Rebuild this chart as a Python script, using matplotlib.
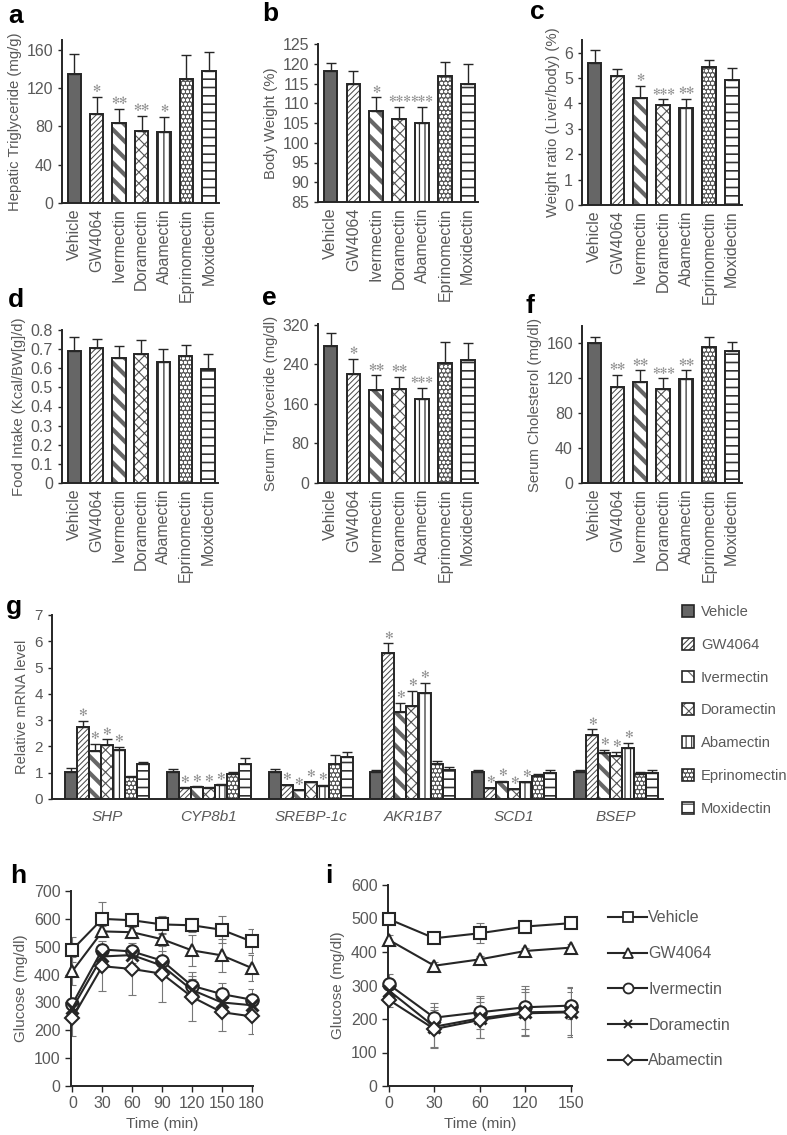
import numpy as np
import matplotlib.pyplot as plt
from matplotlib.patches import Patch
from matplotlib.lines import Line2D
from matplotlib.legend_handler import HandlerTuple

plt.rcParams['font.family'] = ['Liberation Sans', 'DejaVu Sans']
plt.rcParams['hatch.linewidth'] = 0.8

GRAY = '#595959'
DARK = '#262626'
STAR = '#8c8c8c'

groups = ['Vehicle', 'GW4064', 'Ivermectin', 'Doramectin', 'Abamectin',
          'Eprinomectin', 'Moxidectin']

# panel a - hepatic triglyceride
hep_tg = [135, 92.5, 83, 75, 74.5, 129.5, 137.5]
hep_tg_err = [20, 18, 15.5, 15.5, 15, 25, 20]
hep_tg_sig = ['', '*', '**', '**', '*', '', '']

# panel b - body weight
body_wt = [118.1, 115, 108.1, 106.1, 105, 117, 115]
body_wt_err = [2.1, 3.1, 3.4, 2.9, 4, 3.4, 5]
body_wt_sig = ['', '', '*', '***', '***', '', '']

# panel c - liver/body weight ratio
liver_ratio = [5.58, 5.07, 4.21, 3.92, 3.82, 5.42, 4.92]
liver_ratio_err = [0.52, 0.29, 0.47, 0.24, 0.36, 0.29, 0.46]
liver_ratio_sig = ['', '', '*', '***', '**', '', '']

# panel d - food intake
food = [0.692, 0.704, 0.653, 0.674, 0.634, 0.664, 0.594]
food_err = [0.071, 0.049, 0.065, 0.074, 0.066, 0.057, 0.078]

# panel e - serum triglyceride
serum_tg = [278, 221, 189, 191, 170, 243, 249]
serum_tg_err = [25, 30, 29, 24, 22, 42, 35]
serum_tg_sig = ['', '*', '**', '**', '***', '', '']

# panel f - serum cholesterol
serum_chol = [160.8, 110.6, 115.6, 108, 118.7, 155.4, 150.8]
serum_chol_err = [6.5, 13.5, 13.5, 12, 10.5, 12.5, 11]
serum_chol_sig = ['', '**', '**', '***', '**', '', '']

# panel g - relative mRNA (rows = genes, cols = groups)
genes = ['SHP', 'CYP8b1', 'SREBP-1c', 'AKR1B7', 'SCD1', 'BSEP']
mrna = [[1.01, 2.74, 1.83, 2.05, 1.86, 0.82, 1.33],
        [1.01, 0.41, 0.46, 0.43, 0.53, 0.95, 1.32],
        [1.01, 0.53, 0.34, 0.63, 0.51, 1.33, 1.58],
        [1.04, 5.54, 3.32, 3.54, 4.02, 1.32, 1.12],
        [1.03, 0.41, 0.66, 0.37, 0.63, 0.87, 0.99],
        [1.01, 2.43, 1.74, 1.64, 1.93, 0.94, 0.99]]
mrna_err = [[0.16, 0.24, 0.26, 0.22, 0.13, 0.07, 0.09],
            [0.12, 0.03, 0.02, 0.03, 0.03, 0.06, 0.23],
            [0.12, 0.02, 0.02, 0.03, 0.02, 0.36, 0.22],
            [0.06, 0.38, 0.34, 0.58, 0.41, 0.11, 0.10],
            [0.07, 0.02, 0.02, 0.02, 0.02, 0.09, 0.10],
            [0.09, 0.22, 0.12, 0.14, 0.19, 0.10, 0.10]]
mrna_sig = [[False, True, True, True, True, False, False]] * 6

# panel h - glucose tolerance
h_time = [0, 30, 60, 90, 120, 150, 180]
h_series = ['Vehicle', 'GW4064', 'Ivermectin', 'Doramectin', 'Abamectin']
h_vals = [[490, 600, 595, 580, 577, 561, 519],
          [413, 555, 552, 527, 487, 469, 424],
          [295, 490, 483, 450, 360, 330, 310],
          [280, 465, 470, 432, 345, 300, 290],
          [245, 430, 420, 403, 320, 265, 250]]
h_err = [[45, 60, 15, 30, 25, 48, 43],
         [50, 20, 20, 20, 55, 60, 47],
         [20, 20, 20, 35, 35, 38, 40],
         [20, 25, 30, 30, 40, 40, 35],
         [65, 90, 92, 100, 88, 68, 63]]

# panel i - insulin tolerance
i_time = ['0', '30', '60', '120', '150']
i_vals = [[498, 441, 456, 476, 486],
          [436, 359, 378, 403, 413],
          [303, 204, 220, 235, 240],
          [285, 177, 202, 220, 222],
          [257, 170, 197, 217, 220]]
i_err = [[10, 15, 30, 20, 10],
         [15, 12, 10, 10, 10],
         [30, 45, 50, 65, 40],
         [20, 60, 60, 70, 70],
         [20, 58, 55, 65, 75]]

# fill colour, hatch, hatch colour, hatch linewidth
styles = [('#666666', '', '#666666', 0.8),
          ('white', '//////', '#444444', 0.7),
          ('white', '\\\\', '#666666', 3.0),
          ('white', 'xxx', '#555555', 0.8),
          ('white', '|||', '#333333', 0.9),
          ('#5a5a5a', 'oooo', 'white', 0.9),
          ('white', '--', '#333333', 1.2)]
markers = [('s', 9), ('^', 9), ('o', 9), ('x', 8), ('D', 7)]

W, H = 787, 1135
fig = plt.figure(figsize=(W / 100, H / 100), dpi=100)


def box(l, r, t, b):
    return [l / W, 1 - b / H, (r - l) / W, (b - t) / H]


def stars(ax, x, y, n, size=7):
    ax.annotate('\u273b' * n, (x, y), xytext=(0, 2), textcoords='offset points',
                ha='center', va='bottom', fontsize=size, color=STAR,
                family=['DejaVu Sans'])


def draw_bars(ax, x, vals, errs, width):
    for j, (xi, v, e) in enumerate(zip(x, vals, errs)):
        fc, hatch, hc, hlw = styles[j % 7]
        p = ax.bar(xi, v, width, color=fc, hatch=hatch, edgecolor=hc,
                   linewidth=0, zorder=2)[0]
        if hasattr(p, 'set_hatch_linewidth'):
            p.set_hatch_linewidth(hlw)
        ax.bar(xi, v, width, fill=False, edgecolor=DARK, linewidth=1.4, zorder=3)
        ax.errorbar(xi, v, yerr=[[0], [e]], fmt='none', ecolor=DARK,
                    elinewidth=1, capsize=3.5, capthick=1, zorder=4)


def style_axis(ax, size=11.5):
    for s in ['top', 'right']:
        ax.spines[s].set_visible(False)
    for s in ['left', 'bottom']:
        ax.spines[s].set_color(DARK)
        ax.spines[s].set_linewidth(1.4)
    ax.tick_params(colors=DARK, labelcolor=GRAY, labelsize=size,
                   direction='out', length=3, width=1)


def bar_panel(rect, vals, errs, sig, ylim, yticks, ylabel):
    ax = fig.add_axes(rect)
    x = np.arange(len(groups))
    draw_bars(ax, x, vals, errs, 0.6)
    for xi, v, e, s in zip(x, vals, errs, sig):
        if s:
            stars(ax, xi, v + e, len(s), size=6.6 if len(s) == 3 else 7)
    ax.set_xlim(-0.55, 6.45)
    ax.set_ylim(*ylim)
    ax.set_yticks(yticks)
    ax.set_xticks(x)
    ax.set_xticklabels(groups, rotation=90)
    style_axis(ax)
    ax.tick_params(axis='x', length=0, pad=4)
    ax.set_ylabel(ylabel, color=GRAY, fontsize=10.7, labelpad=3)
    return ax


bar_panel(box(62, 219, 40, 203), hep_tg, hep_tg_err, hep_tg_sig,
          (0, 170), [0, 40, 80, 120, 160], 'Hepatic Triglyceride (mg/g)')
bar_panel(box(318, 478, 44, 202), body_wt, body_wt_err, body_wt_sig,
          (85, 125), np.arange(85, 126, 5), 'Body Weight (%)')
bar_panel(box(582, 742, 40, 205), liver_ratio, liver_ratio_err, liver_ratio_sig,
          (0, 6.5), np.arange(0, 7), 'Weight ratio (Liver/body) (%)')
axd = bar_panel(box(62, 218, 330, 483), food, food_err, [''] * 7,
                (0, 0.8), np.arange(0, 0.81, 0.1), 'Food Intake (Kcal/BW[g]/d)')
axd.set_yticklabels(['0', '0.1', '0.2', '0.3', '0.4', '0.5', '0.6', '0.7', '0.8'])
bar_panel(box(318, 478, 324, 483), serum_tg, serum_tg_err, serum_tg_sig,
          (0, 322), [0, 80, 160, 240, 320], 'Serum Triglyceride (mg/dl)')
bar_panel(box(582, 742, 326, 483), serum_chol, serum_chol_err, serum_chol_sig,
          (0, 180), [0, 40, 80, 120, 160], 'Serum Cholesterol (mg/dl)')

# panel g
axg = fig.add_axes(box(52, 663, 615, 799))
w = 0.118
for gi, gene in enumerate(genes):
    xs = gi + (np.arange(7) - 3) * w
    draw_bars(axg, xs, mrna[gi], mrna_err[gi], w)
    for xi, v, e, s in zip(xs, mrna[gi], mrna_err[gi], mrna_sig[gi]):
        if s:
            stars(axg, xi, v + e, 1, size=7.5)
axg.set_xlim(-0.54, 5.46)
axg.set_ylim(0, 7)
axg.set_yticks(range(8))
axg.set_xticks(range(len(genes)))
axg.set_xticklabels(genes, style='italic')
style_axis(axg, 11)
axg.tick_params(axis='x', length=0, pad=8)
axg.set_ylabel('Relative mRNA level', color=GRAY, fontsize=10.5)

handles = []
for j in range(7):
    fc, hatch, hc, hlw = styles[j]
    handles.append((Patch(facecolor=fc, hatch=hatch, edgecolor=hc, linewidth=0),
                    Patch(fill=False, edgecolor=DARK, linewidth=1.2)))
fig.legend(handles, groups, handler_map={tuple: HandlerTuple(ndivide=1, pad=0)},
           loc='upper left', bbox_to_anchor=(676 / W, 1 - 599 / H), frameon=False,
           fontsize=10.6, handlelength=0.85, handleheight=0.85, handletextpad=0.45,
           labelspacing=1.28, labelcolor=GRAY, borderaxespad=0)


def line_panel(rect, x, vals, errs):
    ax = fig.add_axes(rect)
    for k, (v, e) in enumerate(zip(vals, errs)):
        ax.errorbar(x, v, yerr=e, fmt='none', ecolor='#777777', elinewidth=0.8,
                    capsize=3, capthick=0.8, zorder=1)
    for k, v in enumerate(vals):
        m, ms = markers[k]
        ax.plot(x, v, color=DARK, lw=1.5, marker=m, ms=ms, mfc='white',
                mec=DARK, mew=1.5 if m != 'x' else 2.2, zorder=3 + k * 0.1,
                clip_on=False)
    style_axis(ax)
    ax.tick_params(length=4)
    ax.set_xlabel('Time (min)', color=GRAY, fontsize=11)
    ax.set_ylabel('Glucose (mg/dl)', color=GRAY, fontsize=11)
    return ax


axh = line_panel(box(71, 253, 891, 1086), h_time, h_vals, h_err)
axh.set_xlim(-1.5, 181.5)
axh.set_xticks(h_time)
axh.set_ylim(0, 700)
axh.set_yticks(range(0, 701, 100))

axi = line_panel(box(388, 572, 885, 1086), np.arange(len(i_time)), i_vals, i_err)
axi.set_xlim(-0.02, 4.03)
axi.set_xticks(np.arange(len(i_time)))
axi.set_xticklabels(i_time)
axi.set_ylim(0, 600)
axi.set_yticks(range(0, 601, 100))

lh = [Line2D([], [], color=DARK, lw=1.5, marker=m, ms=ms * 0.8, mfc='white', mec=DARK,
             mew=1.3) for m, ms in markers]
fig.legend(lh, h_series, loc='upper left', bbox_to_anchor=(602 / W, 1 - 904 / H),
           frameon=False, fontsize=11.5, handlelength=2.4, handletextpad=0.1,
           labelspacing=1.3, labelcolor=GRAY, borderaxespad=0)

# panel letters
for letter, x, y in [('a', 8, 23), ('b', 262, 21), ('c', 530, 19), ('d', 8, 307),
                     ('e', 262, 305), ('f', 525, 313), ('g', 6, 614),
                     ('h', 10, 883), ('i', 325, 883)]:
    fig.text(x / W, 1 - y / H, letter, fontsize=19, fontweight='bold',
             va='baseline', ha='left', color='black')

fig.savefig('out.png', dpi=100)
